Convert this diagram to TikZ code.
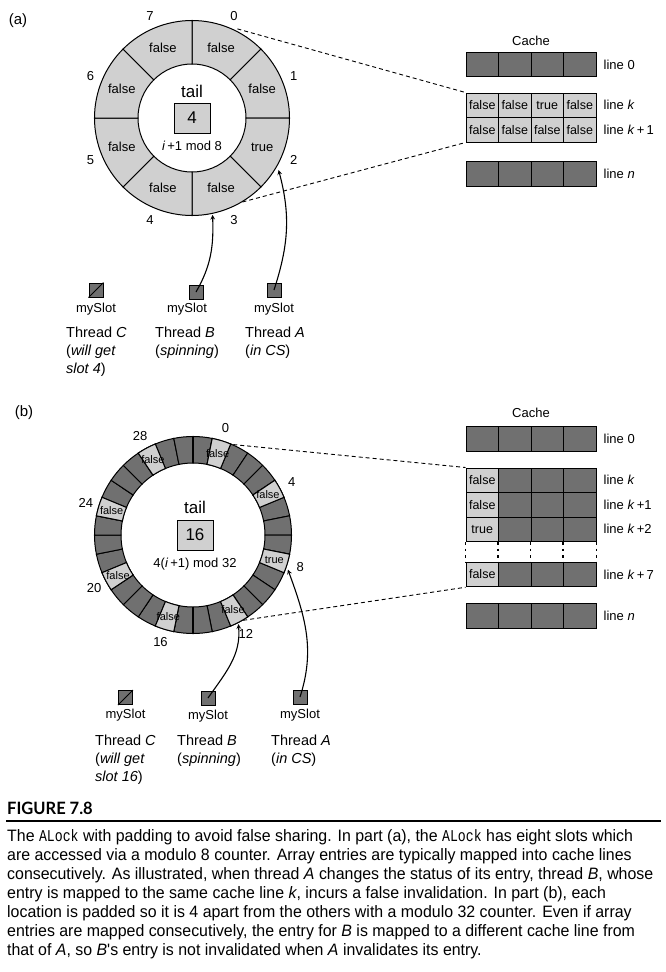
\documentclass[tikz,border=0pt]{standalone}
\usepackage{fontspec}
\setmainfont{Liberation Sans}
\newfontfamily\capfont[FakeStretch=0.965]{Liberation Sans}
\newfontfamily\titlefont[FakeStretch=0.97]{Lato}
\newfontfamily\capmono[FakeStretch=0.8]{Liberation Mono}
\usepackage{xcolor}
\usepackage{tikz}
\usetikzlibrary{arrows}
\usetikzlibrary{positioning}
\definecolor{slotlight}{RGB}{208,208,208}
\definecolor{slotdark}{RGB}{112,112,112}
\newcommand{\fsz}[2]{\fontsize{#1}{#2}\selectfont}
\tikzstyle{cell} = [rectangle, draw=black, line width=1pt, minimum width=32.5pt, minimum height=24.5pt, inner sep=0pt, fill=slotdark, font=\fsz{12.5}{14}]
\tikzstyle{lightcell} = [cell, fill=slotlight]
\tikzstyle{linelabel} = [anchor=west, inner sep=0pt, font=\fsz{13}{15}]
\tikzstyle{slotbox} = [rectangle, draw=black, line width=1pt, minimum size=14pt, inner sep=0pt, fill=slotdark]
\tikzstyle{tailbox} = [rectangle, draw=black, line width=1pt, minimum width=36pt, minimum height=30pt, fill=slotlight, font=\fsz{17}{19}]
\tikzstyle{thread} = [anchor=north west, align=left, inner sep=0pt, font=\fsz{14.5}{18}]
\tikzstyle{ringtext} = [inner sep=0pt, font=\fsz{13}{15}]
\tikzstyle{slottext} = [inner sep=0pt, font=\fsz{11}{13}]
\tikzstyle{arrow} = [line width=1.1pt,->,>=stealth]
\tikzstyle{mapline} = [line width=0.9pt, dash pattern=on 4pt off 3pt]
\tikzstyle{gapline} = [line width=1.1pt, dash pattern=on 2.5pt off 4pt]

\begin{document}
\begin{tikzpicture}[x=1pt, y=1pt]
  \useasboundingbox (0,0) rectangle (666,-972);
  % part (a)
  \node[font=\fsz{15}{17}] (part-a) at (18,-21) {(a)};
  \begin{scope}[shift={(192,-118)}]
    \foreach \i in {0,...,7}
      \draw[line width=1pt, fill=slotlight] (90-45*\i:54) arc[start angle=90-45*\i, end angle=45-45*\i, radius=54] -- (45-45*\i:97.5) arc[start angle=45-45*\i, end angle=90-45*\i, radius=97.5] -- cycle;
    \foreach \i/\v in {0/false,1/false,2/true,3/false,4/false,5/false,6/false,7/false} {
      \node[ringtext] (a-val-\i) at (67.5-45*\i:76) {\v};
      \node[ringtext] (a-num-\i) at (67.5-45*\i:110) {\i};
    }
    \node[font=\fsz{17}{19}] (a-tail) at (0,27) {tail};
    \node[tailbox] (a-count) at (0,0) {4};
    \node[ringtext] (a-mod) at (0,-28) {\textit{i}\,+1 mod 8};
    \coordinate (a-from) at (63:100);
    \coordinate (a-to) at (-59:98);
    \coordinate (a-hit-b) at (-78:99);
    \coordinate (a-hit-a) at (-31:101);
  \end{scope}
  %
  \node[ringtext] (a-cache) at (531,-41) {Cache};
  \foreach \c in {0,...,3} \node[cell] (a-l0-\c) at (482.25+32.5*\c,-64.5) {};
  \foreach \c/\v in {0/false,1/false,2/true,3/false} \node[lightcell] (a-lk-\c) at (482.25+32.5*\c,-105.25) {\v};
  \foreach \c in {0,...,3} \node[lightcell] (a-lk1-\c) at (482.25+32.5*\c,-129.75) {false};
  \foreach \c in {0,...,3} \node[cell] (a-ln-\c) at (482.25+32.5*\c,-174) {};
  \node[linelabel, right=7pt of a-l0-3] (a-lab-0) {line 0};
  \node[linelabel, right=7pt of a-lk-3] (a-lab-k) {line \textit{k}};
  \node[linelabel, right=7pt of a-lk1-3] (a-lab-k1) {line \textit{k}\,+\,1};
  \node[linelabel, right=7pt of a-ln-3] (a-lab-n) {line \textit{n}};
  \draw[mapline] (a-from) -- (a-lk-0.north west);
  \draw[mapline] (a-to) -- (a-lk1-0.south west);
  %
  \node[slotbox] (a-slot-c) at (96,-290) {};
  \draw[line width=1pt] (a-slot-c.south west) -- (a-slot-c.north east);
  \node[slotbox] (a-slot-b) at (196,-292) {};
  \node[slotbox] (a-slot-a) at (274,-290) {};
  \node[ringtext, below=5pt of a-slot-c] (a-my-c) {mySlot};
  \node[ringtext, below=3pt of a-slot-b, xshift=-9pt] (a-my-b) {mySlot};
  \node[ringtext, below=5pt of a-slot-a] (a-my-a) {mySlot};
  \node[thread] (a-thr-c) at (66,-327) {Thread \textit{C}\\(\textit{will get}\\\textit{slot 4})};
  \node[thread] (a-thr-b) at (155,-327) {Thread \textit{B}\\(\textit{spinning})};
  \node[thread] (a-thr-a) at (245,-327) {Thread \textit{A}\\(\textit{in CS})};
  \draw[arrow] (a-slot-b.center) to[out=60, in=-88] (a-hit-b);
  \draw[arrow] (a-slot-a.center) to[out=72, in=-75] (a-hit-a);
  % part (b)
  \node[font=\fsz{15}{17}] (part-b) at (24,-413) {(b)};
  \begin{scope}[shift={(193,-535)}]
    \foreach \j in {0,...,31}
      \draw[line width=1pt, fill=slotdark] (90-11.25*\j:72) arc[start angle=90-11.25*\j, end angle=78.75-11.25*\j, radius=72] -- (78.75-11.25*\j:98.5) arc[start angle=78.75-11.25*\j, end angle=90-11.25*\j, radius=98.5] -- cycle;
    \foreach \k/\n/\v in {0/0/false,1/4/false,2/8/true,3/12/false,4/16/false,5/20/false,6/24/false,7/28/false} {
      \draw[line width=1pt, fill=slotlight] (78.75-45*\k:72) arc[start angle=78.75-45*\k, end angle=67.5-45*\k, radius=72] -- (67.5-45*\k:98.5) arc[start angle=67.5-45*\k, end angle=78.75-45*\k, radius=98.5] -- cycle;
      \node[slottext] (b-val-\n) at (73.125-45*\k:85) {\v};
      \node[ringtext] (b-num-\n) at (73.125-45*\k:112) {\n};
    }
    \draw[line width=1.8pt] (90:72) -- (90:98.5);
    \draw[line width=1.8pt] (270:72) -- (270:98.5);
    \node[font=\fsz{17}{19}] (b-tail) at (2,28) {tail};
    \node[tailbox] (b-count) at (2,0) {16};
    \node[ringtext] (b-mod) at (2,-29) {4(\textit{i}\,+1) mod 32};
    \coordinate (b-from) at (66:99);
    \coordinate (b-to) at (-59.5:99);
    \coordinate (b-hit-b) at (-63:100);
    \coordinate (b-hit-a) at (-20:101);
  \end{scope}
  %
  \node[ringtext] (b-cache) at (531,-413) {Cache};
  \foreach \c in {0,...,3} \node[cell] (b-l0-\c) at (482.25+32.5*\c,-439) {};
  \foreach \r/\y/\v in {k/-480.25/false, k1/-504.75/false, k2/-529.25/true, k7/-574.5/false} {
    \node[lightcell] (b-\r-0) at (482.25,\y) {\v};
    \foreach \c in {1,2,3} \node[cell] (b-\r-\c) at (482.25+32.5*\c,\y) {};
  }
  \foreach \c in {0,...,3} \node[cell] (b-ln-\c) at (482.25+32.5*\c,-616) {};
  \foreach \c in {0,...,3} \draw[gapline] (b-k2-\c.south west) -- (b-k7-\c.north west);
  \draw[gapline] (b-k2-3.south east) -- (b-k7-3.north east);
  \node[linelabel, right=7pt of b-l0-3] (b-lab-0) {line 0};
  \node[linelabel, right=7pt of b-k-3] (b-lab-k) {line \textit{k}};
  \node[linelabel, right=7pt of b-k1-3] (b-lab-k1) {line \textit{k}\,+1};
  \node[linelabel, right=7pt of b-k2-3] (b-lab-k2) {line \textit{k}\,+2};
  \node[linelabel, right=7pt of b-k7-3] (b-lab-k7) {line \textit{k}\,+\,7};
  \node[linelabel, right=7pt of b-ln-3] (b-lab-n) {line \textit{n}};
  \draw[mapline] (b-from) -- (b-k-0.north west);
  \draw[mapline] (b-to) -- (b-k7-0.south west);
  %
  \node[slotbox] (b-slot-c) at (125.5,-697.5) {};
  \draw[line width=1pt] (b-slot-c.south west) -- (b-slot-c.north east);
  \node[slotbox] (b-slot-b) at (208,-698) {};
  \node[slotbox] (b-slot-a) at (300,-697) {};
  \node[ringtext, below=4pt of b-slot-c] (b-my-c) {mySlot};
  \node[ringtext, below=4pt of b-slot-b] (b-my-b) {mySlot};
  \node[ringtext, below=4pt of b-slot-a] (b-my-a) {mySlot};
  \node[thread] (b-thr-c) at (95,-735) {Thread \textit{C}\\(\textit{will get}\\\textit{slot 16})};
  \node[thread] (b-thr-b) at (177,-735) {Thread \textit{B}\\(\textit{spinning})};
  \node[thread] (b-thr-a) at (271,-735) {Thread \textit{A}\\(\textit{in CS})};
  \draw[arrow] (b-slot-b.center) to[out=55, in=-85] (b-hit-b);
  \draw[arrow] (b-slot-a.center) to[out=72, in=-70] (b-hit-a);
  % caption
  \node[anchor=west, inner sep=0pt, font=\titlefont\bfseries\fsz{17}{19}] (fig-title) at (7,-808) {FIGURE 7.8};
  \coordinate (rule-l) at (6,-821);
  \coordinate (rule-r) at (661,-821);
  \draw[line width=1.2pt] (rule-l) -- (rule-r);
  \node[anchor=north west, align=left, inner sep=0pt, font=\capfont\fsz{16.5}{19}] (fig-caption) at (7,-829) {The {\capmono ALock} with padding to avoid false sharing. In part (a), the {\capmono ALock} has eight slots which\\
are accessed via a modulo 8 counter. Array entries are typically mapped into cache lines\\
consecutively. As illustrated, when thread \textit{A} changes the status of its entry, thread \textit{B}, whose\\
entry is mapped to the same cache line \textit{k}, incurs a false invalidation. In part (b), each\\
location is padded so it is 4 apart from the others with a modulo 32 counter. Even if array\\
entries are mapped consecutively, the entry for \textit{B} is mapped to a different cache line from\\
that of \textit{A}, so \textit{B}'s entry is not invalidated when \textit{A} invalidates its entry.};
\end{tikzpicture}
\end{document}
